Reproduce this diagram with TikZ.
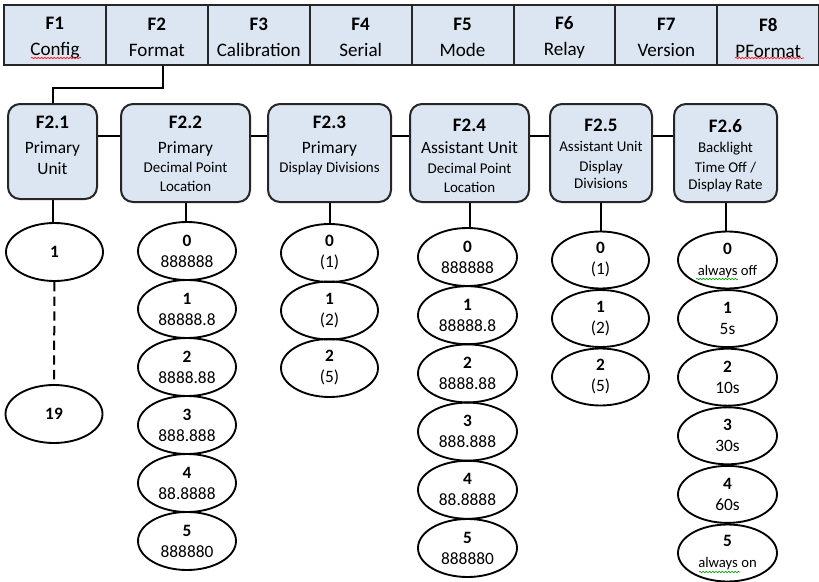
\documentclass[tikz,border=0pt]{standalone}
\usepackage{fontspec}
\setmainfont{Carlito}
\usetikzlibrary{shapes.geometric,decorations.pathmorphing}
\definecolor{boxblue}{RGB}{220,230,242}
\definecolor{edgegray}{RGB}{38,38,38}
\def\pxu{0.75pt}
\def\bigf{\fontsize{14.3pt}{19.5pt}\selectfont}
\def\midf{\fontsize{13pt}{14.25pt}\selectfont}
\def\smf{\fontsize{11.2pt}{14.25pt}\selectfont}
\def\optf{\fontsize{13pt}{15.75pt}\selectfont}
\def\tinyf{\fontsize{11pt}{15pt}\selectfont}
\tikzset{
  fcell/.style={draw=edgegray, line width=1.5pt, fill=boxblue, minimum width=101.9*\pxu, minimum height=60*\pxu, inner sep=0},
  celltext/.style={align=center, font=\bigf, inner sep=0, yshift=-2pt},
  subbox/.style={draw=edgegray, line width=1.5pt, fill=boxblue, rounded corners=9pt, minimum height=98*\pxu},
  subtext/.style={anchor=north, align=center, inner sep=0, font=\midf},
  opt/.style={ellipse, draw, line width=1.4pt, minimum width=98*\pxu, minimum height=58*\pxu, inner sep=0, align=center, font=\optf},
  conn/.style={line width=1.5pt},
  spell/.style={decorate, decoration={snake, amplitude=0.5pt, segment length=2.4pt}, line width=0.5pt}
}

\begin{document}
\begin{tikzpicture}[x=0.75pt, y=-0.75pt]
	%%%%% START %%%%%
	\useasboundingbox (0,0) rectangle (819,582);
	
	% menu bar
	\foreach \i/\name in {1/Config,2/Format,3/Calibration,4/Serial,5/Mode,6/Relay,7/Version,8/PFormat}
		\node[fcell, label={[celltext]center:{\textbf{F\i}\\ \name}}] (f\i) at ({4+101.9*(\i-0.5)},35) {};
	\draw[red, spell] (31,58) -- (81,58);
	\draw[red, spell] (735,58) -- (804,58);
	
	% format sub menus
	\node[subbox, minimum width=89*\pxu, minimum height=95*\pxu] (f21) at (52.5,151.5) {};
	\node[subbox, minimum width=129*\pxu] (f22) at (185.5,153) {};
	\node[subbox, minimum width=123*\pxu] (f23) at (329.5,153) {};
	\node[subbox, minimum width=119*\pxu] (f24) at (469.5,153) {};
	\node[subbox, minimum width=102*\pxu] (f25) at (601,153) {};
	\node[subbox, minimum width=103*\pxu] (f26) at (725.5,153) {};
	
	\node[subtext] (f21t) at ([yshift=-9.75pt]f21.north) {\bigf\bfseries F2.1\\[4.5pt] \midf Primary\\[1.5pt] \midf Unit};
	\node[subtext] (f22t) at ([yshift=-9.75pt]f22.north) {\bigf\bfseries F2.2\\[4.5pt] \midf Primary\\ \smf Decimal Point\\ \smf Location};
	\node[subtext] (f23t) at ([yshift=-9.75pt]f23.north) {\bigf\bfseries F2.3\\[4.5pt] \midf Primary\\ \smf Display Divisions};
	\node[subtext] (f24t) at ([yshift=-12pt]f24.north) {\bigf\bfseries F2.4\\[2.25pt] \midf Assistant Unit\\[0.75pt] \smf Decimal Point\\ \smf Location};
	\node[subtext] (f25t) at ([yshift=-12pt]f25.north) {\bigf\bfseries F2.5\\[0.75pt] \smf Assistant Unit\\[0.75pt] \smf Display\\[-1.5pt] \smf Divisions};
	\node[subtext] (f26t) at ([yshift=-12pt]f26.north) {\bigf\bfseries F2.6\\[0.75pt] \smf Backlight\\[0.75pt] \smf Time Off /\\[-1.5pt] \smf Display Rate};
	
	\draw[conn] ([xshift=4.5pt]f2.south) -- ++(0,22) -| (f21.north);
	\coordinate (hl) at (0,136);
	\foreach \a/\b in {f21/f22,f22/f23,f23/f24,f24/f25,f25/f26}
		\draw[conn] (\a.east |- hl) -- (\b.west |- hl);
	
	% options
	\node[opt, minimum width=97*\pxu] (pu1) at (54.5,252) {\textbf{1}};
	\node[opt, minimum width=97*\pxu] (pu19) at (54,414) {\textbf{19}};
	\draw[conn, dash pattern=on 7pt off 4pt] (pu1) -- (pu19);
	
	\foreach \i/\v in {0/888888,1/88888.8,2/8888.88,3/888.888,4/88.8888,5/888880}
		\node[opt] (dp\i) at (187,{251+58*\i}) {\textbf{\i}\\ \v};
	\foreach \i/\v in {0/{(1)},1/{(2)},2/{(5)}}
		\node[opt, minimum width=97*\pxu] (dd\i) at (329.5,{253+57.5*\i}) {\textbf{\i}\\ \v};
	\foreach \i/\v in {0/888888,1/88888.8,2/8888.88,3/888.888,4/88.8888,5/888880}
		\node[opt, minimum width=99*\pxu] (adp\i) at (467.5,{257+58.2*\i}) {\textbf{\i}\\ \v};
	\foreach \i/\v in {0/{(1)},1/{(2)},2/{(5)}}
		\node[opt, minimum width=97*\pxu, minimum height=57*\pxu] (add\i) at (600.5,{260+58.5*\i}) {\textbf{\i}\\ \v};
	\foreach \i/\v in {0/{\tinyf always off},1/5s,2/10s,3/30s,4/60s,5/{\tinyf always on}}
		\node[opt, minimum width=99*\pxu, minimum height=57*\pxu] (bl\i) at (727.5,{260+58.6*\i}) {\textbf{\i}\\ \v};
	\draw[green!60!black, spell] (696,279) -- (738,279);
	\draw[green!60!black, spell] (699,572) -- (740,572);
	
	\foreach \a/\b in {f21/pu1,f22/dp0,f23/dd0,f24/adp0,f25/add0,f26/bl0}
		\draw[conn] (\a.south) -- (\a.south |- \b.north);
	%%%%% END %%%%%
\end{tikzpicture}
\end{document}
